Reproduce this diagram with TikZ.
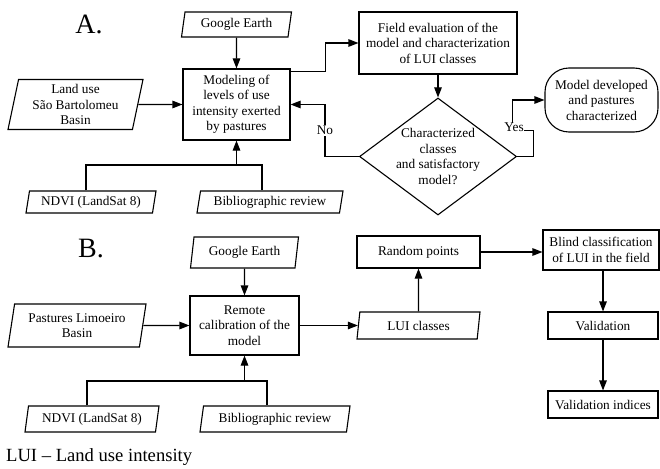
\documentclass[tikz,border=0pt]{standalone}
\usepackage{fontspec}
\setmainfont{Liberation Serif}
\usetikzlibrary{arrows.meta,shapes.geometric}

\begin{document}
\begin{tikzpicture}[x=1pt,y=-1pt,
  every node/.style={font=\fontsize{13.3}{15.5}\selectfont, align=center, inner sep=1pt},
  proc/.style={draw, line width=1.1pt, rectangle},
  datain/.style={draw, line width=1.1pt, trapezium, trapezium left angle=76, trapezium right angle=104, trapezium stretches body},
  decision/.style={draw, line width=1.1pt, diamond},
  term/.style={draw, line width=1.1pt, rectangle, rounded corners=24pt},
  link/.style={line width=1.1pt, -{Triangle[length=10pt,width=7.5pt]}},
  wire/.style={line width=1.1pt}]
\useasboundingbox (0,0) rectangle (660,468);
\node[font=\fontsize{28}{30}\selectfont] (labA) at (89,24) {A.};
\node[datain, minimum width=110pt, minimum height=25pt] (geA) at (236.5,24.5) {Google Earth};
\node[proc, minimum width=107pt, minimum height=71pt] (modA) at (236.5,104.5) {Modeling of\\levels of use\\intensity exerted\\by pastures};
\node[datain, minimum width=135pt, minimum height=50pt] (landA) at (75.5,104.5) {Land use\\São Bartolomeu\\Basin};
\node[datain, minimum width=130pt, minimum height=22pt] (ndA) at (91,202) {NDVI (LandSat 8)};
\node[datain, minimum width=146pt, minimum height=22pt] (bibA) at (270,202) {Bibliographic review};
\node[proc, minimum width=158pt, minimum height=62pt] (fldA) at (438,43) {Field evaluation of the\\model and characterization\\of LUI classes};
\node[decision, minimum width=157pt, minimum height=117pt] (chkA) at (438,156.5) {};
\node (chkAtxt) at (chkA) {Characterized\\classes\\and satisfactory\\model?};
\node[term, minimum width=113pt, minimum height=64pt] (endA) at (601.5,100) {Model developed\\and pastures\\characterized};
\coordinate (jnA) at (236.5,165);
\draw[link] (geA) -- (modA);
\draw[link] (landA) -- (modA);
\draw[wire] ([xshift=-5pt]ndA.north) |- (jnA) -| ([xshift=-8pt]bibA.north);
\draw[link] (jnA) -- (modA);
\draw[link] ([yshift=33pt]modA.east) -- ++(35,0) |- (fldA.west);
\draw[link] (fldA) -- (chkA);
\draw[link] (chkA.west) -- ++(-34,0) |- node[pos=0.25, fill=white, inner sep=1pt] (noA) {No} (modA.east);
\draw[link] (chkA.east) -- ++(16,0) -- ++(0,-26) -- ++(-21,0) node[fill=white, inner sep=0.5pt, xshift=2pt, yshift=3pt] (yesA) {Yes} |- (endA.west);
\node[font=\fontsize{28}{30}\selectfont] (labB) at (91,249) {B.};
\node[datain, minimum width=108pt, minimum height=31pt] (geB) at (244.5,252.5) {Google Earth};
\node[proc, minimum width=109pt, minimum height=59pt] (remB) at (244.5,325.5) {Remote\\calibration of the\\model};
\node[datain, minimum width=138pt, minimum height=43pt] (pasB) at (77,325.5) {Pastures Limoeiro\\Basin};
\node[datain, minimum width=134pt, minimum height=26pt] (ndB) at (92,419) {NDVI (LandSat 8)};
\node[datain, minimum width=150pt, minimum height=26pt] (bibB) at (275,419) {Bibliographic review};
\node[datain, minimum width=123pt, minimum height=27pt] (clsB) at (418.5,325.5) {LUI classes};
\node[proc, minimum width=123pt, minimum height=32pt] (rndB) at (418.5,252) {Random points};
\node[proc, minimum width=116pt, minimum height=40pt] (blindB) at (601,250) {Blind classification\\of LUI in the field};
\node[proc, minimum width=110pt, minimum height=27pt] (valB) at (603,325.5) {Validation};
\node[proc, minimum width=110pt, minimum height=27pt] (idxB) at (603,404.5) {Validation indices};
\coordinate (jnB) at (244.5,381);
\draw[link] (geB) -- (remB);
\draw[link] (pasB) -- (remB);
\draw[wire] ([xshift=-5pt]ndB.north) |- (jnB) -| ([xshift=-8pt]bibB.north);
\draw[link] (jnB) -- (remB);
\draw[link] (remB) -- (clsB);
\draw[link] (clsB) -- (rndB);
\draw[link] (rndB.east) -- (rndB.east -| blindB.west);
\draw[link] (blindB.south -| valB) -- (valB.north);
\draw[link] (valB) -- (idxB);
\node[anchor=west, font=\fontsize{18.6}{20}\selectfont] (keyB) at (5,457) {LUI – Land use intensity};
\end{tikzpicture}
\end{document}
